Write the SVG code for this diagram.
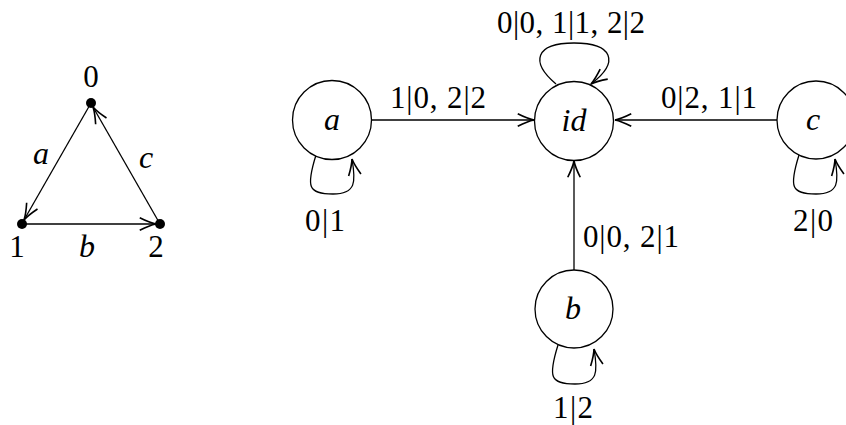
<svg xmlns="http://www.w3.org/2000/svg" width="846" height="425" viewBox="0 0 846 425">
<style>
.e{fill:none;stroke:#000;stroke-width:1.3}
.n{fill:#fff;stroke:#000;stroke-width:1.3}
.t{font-family:"Liberation Serif","DejaVu Serif",serif;font-size:31px;fill:#000;text-anchor:middle}
.i{font-style:italic;font-size:32px}
</style>
<defs>
<marker id="ar" markerUnits="userSpaceOnUse" markerWidth="20" markerHeight="20" viewBox="-14 -8 16 16" refX="0" refY="0" orient="auto">
<path d="M -13 -5 Q -5 -1 0 0 Q -5 1 -13 5" fill="none" stroke="#000" stroke-width="1.3"/>
</marker>
</defs>
<rect width="846" height="425" fill="#fff"/>
<g id="connectors">
<line class="e" x1="91" y1="103" x2="24" y2="220" marker-end="url(#ar)"/>
<line class="e" x1="22" y1="224" x2="156" y2="224" marker-end="url(#ar)"/>
<line class="e" x1="160" y1="224" x2="93" y2="107" marker-end="url(#ar)"/>
<line class="e" x1="372" y1="120" x2="534" y2="120" marker-end="url(#ar)"/>
<line class="e" x1="777" y1="120" x2="615" y2="120" marker-end="url(#ar)"/>
<line class="e" x1="574" y1="270" x2="574" y2="161" marker-end="url(#ar)"/>
<path class="e" d="M 316 155 C 306 187, 308 194, 333 194 C 356 194, 356 182, 352 159" marker-end="url(#ar)"/>
<path class="e" d="M 558 345 C 548 377, 550 384, 575 384 C 598 384, 598 372, 594 349" marker-end="url(#ar)"/>
<path class="e" d="M 799 155 C 789 187, 791 194, 816 194 C 839 194, 839 182, 835 159" marker-end="url(#ar)"/>
<path class="e" d="M 556 84 C 530 62, 535 43, 574 43 C 613 43, 620 62, 591 84" marker-end="url(#ar)"/>
</g>
<g id="v0"><circle cx="91" cy="103" r="5"/><text class="t" x="91" y="87">0</text></g>
<g id="v1"><circle cx="22" cy="224" r="5"/><text class="t" x="17" y="257">1</text></g>
<g id="v2"><circle cx="160" cy="224" r="5"/><text class="t" x="156" y="257">2</text></g>
<g id="edge-labels">
<text class="t i" x="41" y="164">a</text>
<text class="t i" x="87" y="257">b</text>
<text class="t i" x="146" y="168">c</text>
</g>
<g id="a"><circle class="n" cx="332" cy="120" r="39.5"/><text class="t i" x="332" y="130">a</text></g>
<g id="id"><circle class="n" cx="574" cy="121" r="39.5"/><text class="t i" x="574" y="131">id</text></g>
<g id="c"><circle class="n" cx="816" cy="120" r="39"/><text class="t i" x="813" y="130">c</text></g>
<g id="b"><circle class="n" cx="574" cy="309" r="39"/><text class="t i" x="573" y="319">b</text></g>
<g id="labels">
<text class="t" x="438" y="108" textLength="96" lengthAdjust="spacing">1|0, 2|2</text>
<text class="t" x="571" y="33" textLength="148" lengthAdjust="spacing">0|0, 1|1, 2|2</text>
<text class="t" x="709" y="108" textLength="96" lengthAdjust="spacing">0|2, 1|1</text>
<text class="t" x="631" y="247" textLength="96" lengthAdjust="spacing">0|0, 2|1</text>
<text class="t" x="325" y="231" textLength="40" lengthAdjust="spacing">0|1</text>
<text class="t" x="813" y="231" textLength="40" lengthAdjust="spacing">2|0</text>
<text class="t" x="573" y="418" textLength="40" lengthAdjust="spacing">1|2</text>
</g>
</svg>
